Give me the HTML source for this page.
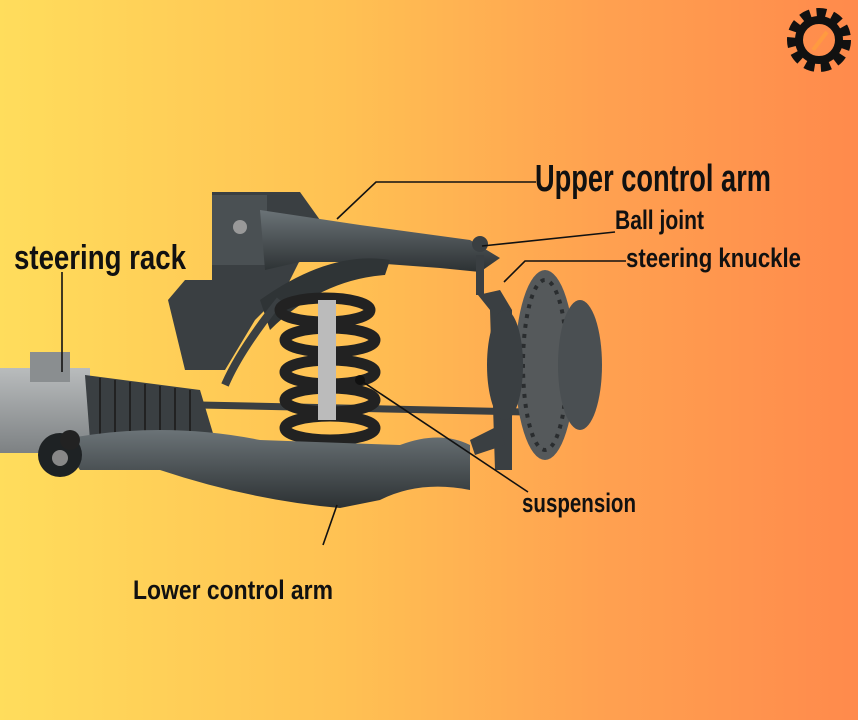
<!DOCTYPE html>
<html><head><meta charset="utf-8"><style>
html,body{margin:0;padding:0;width:858px;height:720px;overflow:hidden}
body{background:linear-gradient(90deg,#ffdd5c 0%,#ffc153 40%,#ffa150 70%,#ff8a4c 100%)}
svg{position:absolute;left:0;top:0}
text{font-family:"Liberation Sans Narrow","Liberation Sans",sans-serif;font-weight:bold;fill:#111}
</style></head><body>
<svg width="858" height="720" viewBox="0 0 858 720">
<defs>
<linearGradient id="m" x1="0" y1="0" x2="0" y2="1"><stop offset="0" stop-color="#6b7377"/><stop offset="1" stop-color="#2c3133"/></linearGradient>
<linearGradient id="s" x1="0" y1="0" x2="0" y2="1"><stop offset="0" stop-color="#b9bcbd"/><stop offset="1" stop-color="#7d8183"/></linearGradient>
</defs>
<!-- gear logo -->
<g transform="translate(819,40)">
<circle r="26" fill="none" stroke="#111" stroke-width="12" stroke-dasharray="9 6"/>
<circle r="20" fill="none" stroke="#111" stroke-width="8"/>
<path d="M-6 10 L8 -8" stroke="#ff9a40" stroke-width="4"/>
</g>
<!-- steering rack housing -->
<rect x="0" y="368" width="90" height="85" fill="url(#s)"/>
<rect x="30" y="352" width="40" height="30" fill="#8a8e90"/>
<!-- boot -->
<path d="M85 375 L200 390 L215 440 L90 440 Z" fill="#3a3f42"/>
<g stroke="#222" stroke-width="2">
<line x1="100" y1="378" x2="100" y2="440"/><line x1="115" y1="380" x2="115" y2="440"/><line x1="130" y1="382" x2="130" y2="440"/><line x1="145" y1="384" x2="145" y2="440"/><line x1="160" y1="386" x2="160" y2="440"/><line x1="175" y1="388" x2="175" y2="440"/><line x1="190" y1="390" x2="190" y2="440"/></g>
<!-- tie rod -->
<line x1="200" y1="405" x2="525" y2="412" stroke="#3a3f42" stroke-width="7"/>
<!-- frame bracket -->
<path d="M212 192 L300 192 L320 220 L285 290 L255 320 L225 370 L185 370 L168 300 L185 280 L212 280 Z" fill="#3a3f42"/>
<rect x="212" y="195" width="55" height="70" fill="#4a5053"/>
<circle cx="240" cy="227" r="7" fill="#999"/>
<!-- upper arm -->
<path d="M260 210 L360 225 L470 240 L500 258 L480 272 L440 268 L360 262 L300 262 L265 270 Z" fill="url(#m)"/>
<path d="M260 300 Q330 250 390 260 L385 275 Q320 280 270 330 Z" fill="#2f3436"/>
<path d="M280 300 Q240 350 225 385" stroke="#3a3f42" stroke-width="8" fill="none"/>
<!-- ball joint & knuckle -->
<circle cx="480" cy="244" r="8" fill="#3a3f42"/>
<rect x="476" y="255" width="8" height="40" fill="#3a3f42"/>
<path d="M478 295 L500 290 L512 310 L512 470 L495 470 L490 310 Z" fill="#3a3f42"/>
<!-- spring -->
<g fill="none" stroke="#222" stroke-width="11">
<ellipse cx="325" cy="310" rx="45" ry="12"/><ellipse cx="330" cy="340" rx="45" ry="12"/><ellipse cx="330" cy="372" rx="45" ry="12"/><ellipse cx="330" cy="400" rx="45" ry="12"/><ellipse cx="330" cy="428" rx="45" ry="12"/></g>
<rect x="318" y="300" width="18" height="120" fill="#bbb"/>
<!-- disc -->
<ellipse cx="545" cy="365" rx="30" ry="95" fill="#55595b"/>
<ellipse cx="545" cy="365" rx="22" ry="85" fill="none" stroke="#2a2d2f" stroke-width="4" stroke-dasharray="4 6"/>
<ellipse cx="580" cy="365" rx="22" ry="65" fill="#4a4f52"/>
<ellipse cx="505" cy="365" rx="18" ry="55" fill="#3a3f42"/>
<!-- lower arm -->
<path d="M60 440 Q160 420 260 440 L400 445 Q440 430 470 445 L470 490 Q420 480 380 500 L340 508 Q250 500 160 470 L80 470 Z" fill="url(#m)"/>
<path d="M470 440 L500 425 L505 445 L475 455 Z" fill="#3a3f42"/>
<circle cx="60" cy="455" r="22" fill="#1e2224"/><circle cx="60" cy="458" r="8" fill="#888"/>
<circle cx="70" cy="440" r="10" fill="#222"/>
<!-- leader lines -->
<g stroke="#111" stroke-width="1.6" fill="none">
<polyline points="536,182 376,182 337,219"/>
<line x1="615" y1="232" x2="482" y2="246"/>
<polyline points="626,261 525,261 504,282"/>
<line x1="62" y1="272" x2="62" y2="372"/>
<line x1="528" y1="492" x2="360" y2="380"/>
<line x1="337" y1="505" x2="323" y2="545"/>
</g>
<circle cx="360" cy="380" r="5" fill="#111"/>
<!-- labels -->
<text x="535" y="191" font-size="38" textLength="236" lengthAdjust="spacingAndGlyphs">Upper control arm</text>
<text x="615" y="229" font-size="27" textLength="89" lengthAdjust="spacingAndGlyphs">Ball joint</text>
<text x="626" y="267" font-size="27" textLength="175" lengthAdjust="spacingAndGlyphs">steering knuckle</text>
<text x="14" y="269" font-size="34" textLength="172" lengthAdjust="spacingAndGlyphs">steering rack</text>
<text x="522" y="512" font-size="27" textLength="114" lengthAdjust="spacingAndGlyphs">suspension</text>
<text x="133" y="599" font-size="27" textLength="200" lengthAdjust="spacingAndGlyphs">Lower control arm</text>
</svg>
</body></html>
